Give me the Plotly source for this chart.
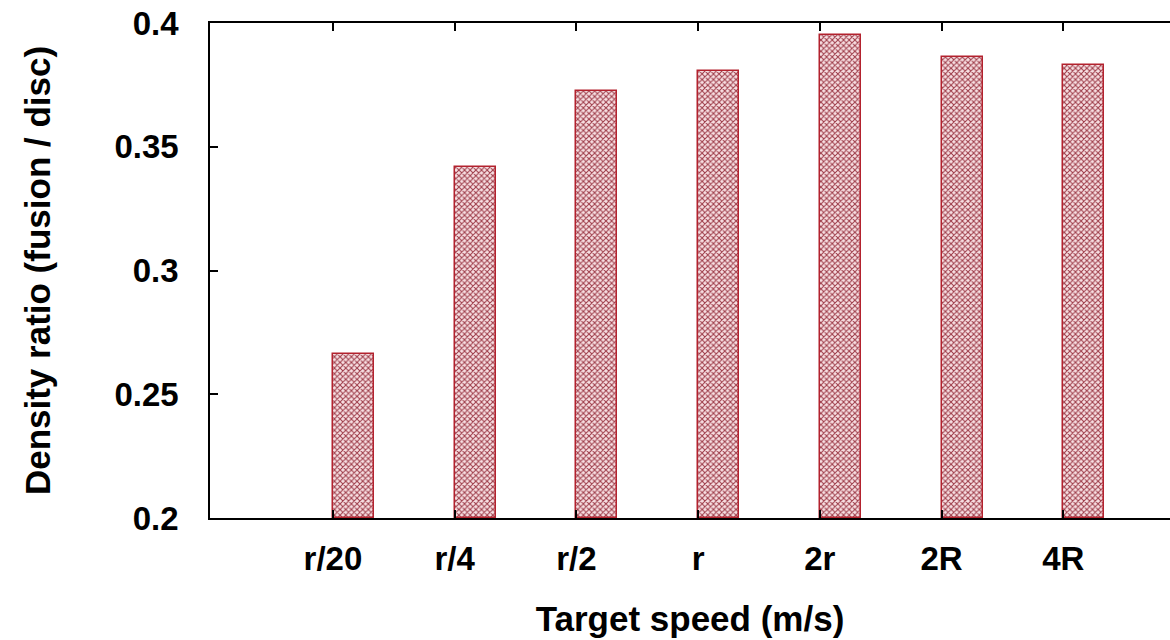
import plotly.graph_objects as go

categories = ["r/20", "r/4", "r/2", "r", "2r", "2R", "4R"]
positions = [0, 1, 2, 3, 4, 5, 6]
density_ratio = [0.2664, 0.3417, 0.3724, 0.3805, 0.3953, 0.3863, 0.3829]
y_ticks = [0.2, 0.25, 0.3, 0.35, 0.4]
y_tick_labels = ["0.2", "0.25", "0.3", "0.35", "0.4"]
y_base = 0.2

FONT = "Liberation Sans"

fig = go.Figure()
fig.add_trace(go.Bar(
    x=positions,
    y=[v - y_base for v in density_ratio],
    base=y_base,
    width=0.337,
    offset=0,
    marker=dict(
        color="#f8e0e3",
        line=dict(color="#b3222e", width=1.5),
        pattern=dict(shape="x", fgcolor="#9c3a47", bgcolor="#f8e0e3",
                     size=4, solidity=0.45, fillmode="replace"),
    ),
    showlegend=False,
))

fig.update_layout(
    width=1170, height=640,
    margin=dict(l=210, r=0, t=23, b=122),
    paper_bgcolor="white", plot_bgcolor="white",
    font=dict(family=FONT, color="black", size=33, weight="bold"),
    bargap=0,
)
fig.update_xaxes(
    range=[-1.01, 6.877],
    tickmode="array", tickvals=positions, ticktext=categories,
    ticks="inside", ticklen=8, tickwidth=1.5, tickcolor="black",
    showline=True, linecolor="black", linewidth=1.5, mirror="ticks",
    showgrid=False, zeroline=False,
    tickfont=dict(family=FONT, size=33, weight="bold"),
    ticklabelstandoff=11,
    title=dict(text="Target speed (m/s)", font=dict(family=FONT, size=35, weight="bold"), standoff=30),
)
fig.update_yaxes(
    range=[0.2, 0.4],
    tickmode="array", tickvals=y_ticks, ticktext=y_tick_labels,
    ticks="inside", ticklen=8, tickwidth=1.5, tickcolor="black",
    showline=True, linecolor="black", linewidth=1.5, mirror=False,
    showgrid=False, zeroline=False,
    tickfont=dict(family=FONT, size=33, weight="bold"),
    ticklabelstandoff=23,
    title=dict(text="Density ratio (fusion / disc)", font=dict(family=FONT, size=35, weight="bold"), standoff=53),
)

fig.write_html("out.html")
